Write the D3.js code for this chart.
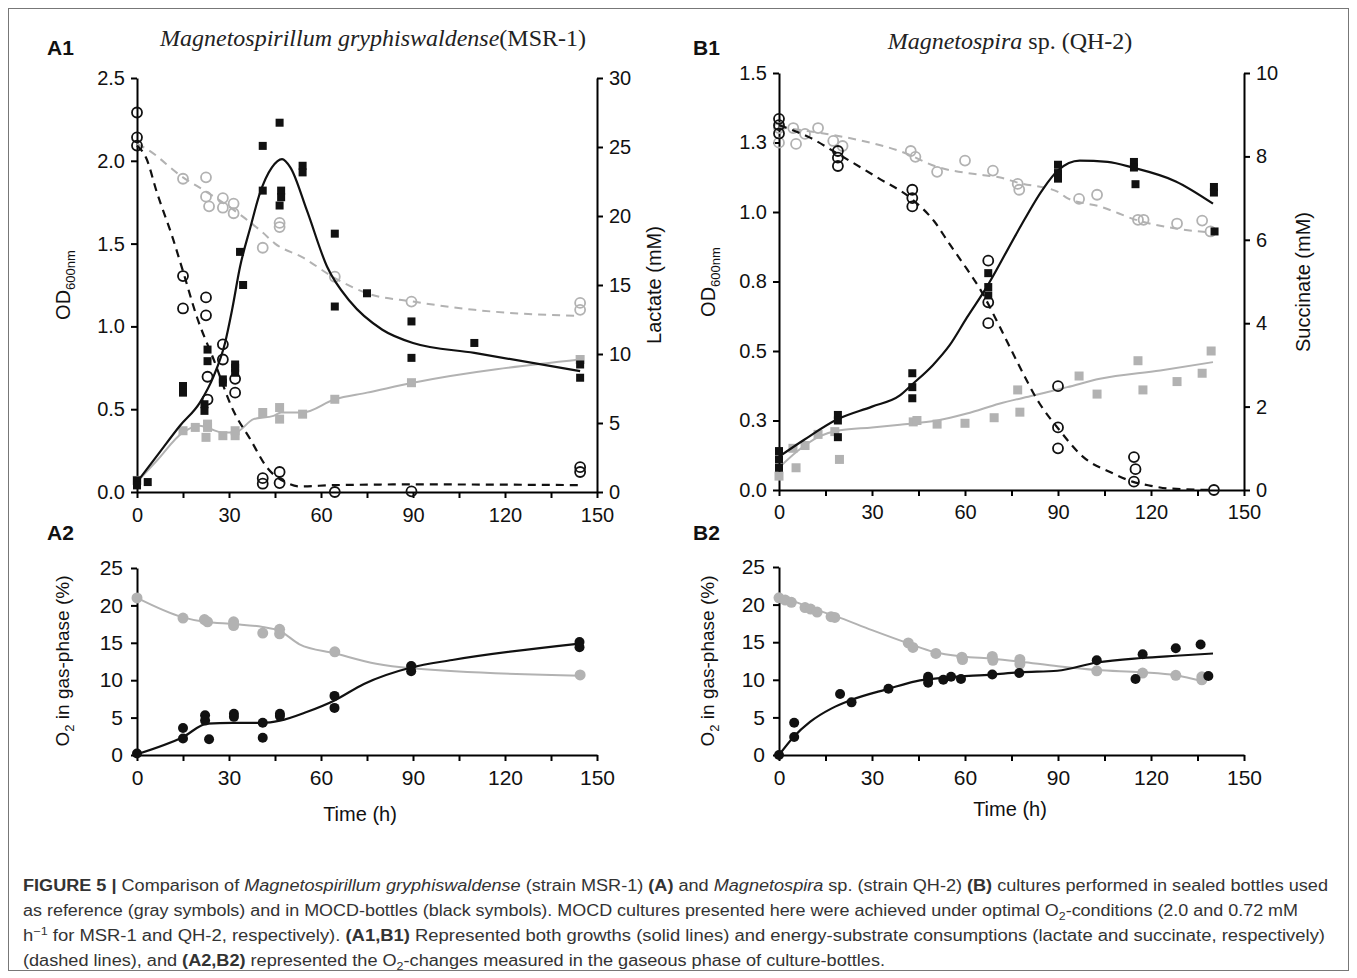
<!DOCTYPE html>
<html>
<head>
<meta charset="utf-8">
<script src="https://cdn.jsdelivr.net/npm/d3@7"></script>
<style>
  body { margin: 0; background: #fff; }
  svg text { font-family: "Liberation Sans", Arial, sans-serif; }
</style>
</head>
<body>
<svg id="fig" width="1357" height="978"></svg>
<script>
// ---------- data (time in h, value) ----------
const timeTicks = [0, 15, 30, 45, 60, 75, 90, 105, 120, 135, 150];

// A1  MSR-1 : OD600 (left) and lactate mM (right)
const a1OdTicks = [0, 0.5, 1.0, 1.5, 2.0, 2.5];
const a1LacTicks = [0, 5, 10, 15, 20, 25, 30];
const a1MocdOd = [[0,0.07],[0,0.04],[3.5,0.06],[15,0.64],[15,0.60],[23,0.86],[23,0.79],[22,0.53],[22,0.49],
  [28,0.68],[28,0.66],[32,0.77],[32,0.75],[32,0.72],[33.6,1.45],[34.6,1.25],[41,2.09],[41,1.82],
  [46.5,2.23],[47,1.82],[47,1.78],[46.5,1.73],[54,1.97],[54,1.93],[64.5,1.56],[64.5,1.12],[75,1.20],
  [89.5,1.03],[89.5,0.81],[110,0.90],[144.5,0.77],[144.5,0.69]];
const a1MocdOdFit = [[0,0.06],[7,0.23],[14,0.40],[20.5,0.54],[25,0.70],[28.7,0.90],[31,1.10],[33.6,1.36],
  [37,1.60],[40,1.80],[44,1.96],[47.3,2.01],[50,1.96],[55.4,1.70],[62,1.36],[69.5,1.15],[80,0.98],
  [90,0.90],[110,0.84],[144.5,0.73]];
const a1RefOd = [[0,0.07],[15,0.37],[19,0.39],[22.5,0.33],[23,0.39],[23,0.41],[28,0.34],[32,0.34],[32,0.37],
  [41,0.48],[46.5,0.44],[46.5,0.51],[54,0.47],[64.5,0.56],[89.5,0.66],[144.5,0.80]];
const a1RefOdFit = [[0,0.06],[6.5,0.19],[15,0.36],[20.5,0.40],[24,0.38],[27.7,0.36],[32,0.36],[38,0.44],
  [44.5,0.46],[47,0.48],[54,0.48],[64.5,0.56],[75,0.60],[90,0.66],[144.5,0.80]];
const a1MocdLac = [[0,27.5],[0,25.7],[0,25.1],[15,15.65],[15,13.3],[22.5,14.1],[22.5,12.8],[23,8.35],[23,6.7],
  [28,10.7],[28,9.6],[32,8.2],[32,7.2],[41,1.0],[41,0.6],[46.5,1.45],[46.5,0.65],[64.5,0],[89.5,0.05],
  [144.5,1.8],[144.5,1.45]];
const a1MocdLacFit = [[0,25.1],[3,24.2],[6.5,21.7],[11.8,18.3],[15,16.0],[19.5,12.7],[25,9.6],[31.4,5.9],
  [37,3.8],[42.3,1.8],[49,0.65],[53,0.4],[64.5,0.5],[90,0.55],[144.5,0.5]];
const a1RefLac = [[15,22.7],[22.5,22.8],[22.5,21.4],[23.5,20.7],[28,21.3],[28,20.6],[31.5,20.9],[31.5,20.2],
  [41,17.7],[46.5,19.5],[46.5,19.2],[64.5,15.6],[89.5,13.8],[144.5,13.7],[144.5,13.2]];
const a1RefLacFit = [[0,25.2],[2,25.0],[15,22.8],[23,21.7],[33,20.2],[41,18.8],[45,18.0],[54,17.0],
  [64.5,15.5],[75,14.4],[90,13.8],[110,13.2],[144.5,12.75]];

// B1  QH-2 : OD600 (left) and succinate mM (right)
const b1OdTicks = [0, 0.25, 0.5, 0.75, 1.0, 1.25, 1.5];
const b1OdLabels = ["0.0", "0.3", "0.5", "0.8", "1.0", "1.3", "1.5"];
const b1SucTicks = [0, 2, 4, 6, 8, 10];
const b1MocdOd = [[0,0.14],[0,0.11],[0,0.08],[19,0.27],[19,0.25],[19,0.19],[43,0.42],[43,0.37],[43,0.33],
  [67.5,0.78],[67.5,0.73],[67.5,0.70],[90,1.17],[90,1.14],[90,1.12],[114.5,1.18],[114.5,1.16],[115,1.10],
  [140.3,1.09],[140.3,1.07],[140.5,0.93]];
const b1MocdOdFit = [[0,0.12],[8,0.18],[19,0.255],[30,0.30],[39,0.34],[43,0.38],[49.7,0.45],[55,0.52],
  [60.6,0.62],[67,0.73],[77,0.93],[85,1.08],[90,1.15],[97,1.185],[106,1.18],[114,1.16],[128,1.11],[140,1.03]];
const b1RefOd = [[0,0.05],[4.5,0.15],[5.5,0.08],[8.4,0.16],[12.6,0.20],[18,0.21],[19.5,0.11],[43.3,0.245],
  [44.5,0.25],[51,0.237],[60,0.24],[69.4,0.26],[77,0.36],[77.7,0.28],[96.8,0.41],[102.6,0.345],[115.8,0.465],
  [117.4,0.36],[128.4,0.39],[136.5,0.42],[139.4,0.50]];
const b1RefOdFit = [[0,0.08],[6,0.14],[12.6,0.19],[19.7,0.215],[30,0.225],[39,0.235],[51,0.25],[60.6,0.275],
  [71,0.31],[82,0.34],[93,0.37],[103.5,0.40],[123,0.43],[140,0.46]];
const b1MocdSuc = [[0,8.9],[0,8.75],[0,8.55],[19,8.13],[19,7.97],[19,7.77],[43,7.2],[43,7.0],[43,6.8],
  [67.5,5.5],[67.5,4.5],[67.5,4.0],[90,2.49],[90,1.5],[90,1.0],[114.5,0.79],[115,0.5],[114.5,0.2],[140.3,0]];
const b1MocdSucFit = [[0,8.75],[10,8.45],[19,8.06],[31.6,7.5],[43.3,6.95],[50,6.45],[55,5.9],[60.6,5.3],
  [65,4.8],[71.3,3.9],[77,3.05],[84,2.08],[90,1.48],[98,0.8],[107.7,0.4],[114,0.2],[120,0.1],[125,0.04],[140,0]];
const b1RefSuc = [[0,8.68],[0,8.33],[4.6,8.68],[5.5,8.3],[8.4,8.54],[12.6,8.68],[17.5,8.37],[20.5,8.25],
  [42.5,8.13],[44,7.99],[51,7.63],[60,7.9],[69,7.66],[77,7.34],[77.5,7.2],[96.8,6.98],[102.6,7.08],
  [115.8,6.48],[117.6,6.48],[128.4,6.39],[136.5,6.46],[139.2,6.2]];
const b1RefSucFit = [[0,8.7],[10,8.6],[22,8.45],[40,8.1],[51,7.75],[66,7.55],[71,7.5],[77,7.37],[90,7.15],
  [93,7.0],[103.5,6.8],[116,6.46],[128,6.27],[140,6.17]];

// A2 / B2 : O2 in gas phase (%)
const o2Ticks = [0, 5, 10, 15, 20, 25];
const a2Ref = [[0,21.0],[15,18.3],[22,18.1],[23,17.8],[31.5,17.8],[31.5,17.3],[41,16.3],[46.5,16.8],
  [46.5,16.2],[64.5,13.8],[89.5,11.8],[144.5,10.7]];
const a2RefFit = [[0,21],[15,18.4],[22,17.8],[32,17.5],[41,17.1],[46.5,16.6],[53,14.8],[64.5,13.6],
  [78,12.2],[89.5,11.6],[144.5,10.6]];
const a2Mocd = [[0,0.2],[15,3.6],[15,2.2],[22.2,5.3],[22.2,4.6],[23.5,2.1],[31.6,5.5],[31.6,5.1],[41,4.3],
  [41,2.3],[46.6,5.5],[46.6,5.2],[64.4,7.9],[64.4,6.3],[89.4,11.9],[89.4,11.2],[144.3,15.1],[144.3,14.4]];
const a2MocdFit = [[0,0.1],[15,2.4],[22.9,4.2],[31,4.3],[41,4.3],[46.6,4.6],[55.3,5.75],[64.4,7.3],
  [74,9.5],[89.4,11.7],[102.8,12.7],[144.3,14.9]];
const b2Ref = [[0,20.9],[2,20.6],[4,20.3],[8.4,19.6],[10.2,19.4],[12.3,19.0],[16.8,18.4],[18,18.3],
  [41.7,14.9],[43.2,14.3],[50.6,13.5],[59,13.0],[59.2,12.7],[68.8,13.1],[69,12.6],[77.7,12.7],[77.7,12.1],
  [102.5,11.2],[117.3,10.9],[128,10.6],[136.4,10.4],[136.4,10.0]];
const b2RefFit = [[0,21],[5,20.4],[10,19.6],[18,18.5],[30,16.6],[42,14.8],[50,13.7],[59,13.1],[69,12.8],
  [78,12.4],[90,11.8],[102.5,11.3],[117,11.0],[128,10.6],[136.7,9.8]];
const b2Mocd = [[0,0],[4.9,2.4],[4.9,4.3],[19.7,8.1],[23.4,7.0],[35.3,8.8],[48.1,10.4],[48.1,9.6],[48.1,10.1],
  [53,10.0],[55.5,10.4],[58.7,10.1],[68.8,10.7],[77.5,10.9],[102.5,12.6],[115,10.1],[117.3,13.4],
  [128,14.2],[136,14.7],[138.5,10.5]];
const b2MocdFit = [[0,0],[4.7,2.4],[10,4.4],[17,6.2],[23.2,7.3],[35.3,8.8],[44,9.8],[54,10.3],[68.8,10.7],
  [77.5,11.0],[89.8,11.2],[102.5,12.3],[117,12.9],[128,13.2],[140,13.5]];

// ---------- drawing ----------
const svg = d3.select("#fig");
const BLACK = "#111", GRAY = "#b2b2b2";

svg.append("rect").attr("x", 8.5).attr("y", 8.5).attr("width", 1340).attr("height", 962)
  .attr("fill", "none").attr("stroke", "#777").attr("stroke-width", 1);

function styleAxis(g, fs) {
  g.select(".domain").attr("stroke", "#000").attr("stroke-width", 2);
  g.selectAll(".tick line").attr("stroke", "#000").attr("stroke-width", 2);
  g.selectAll(".tick text").attr("font-size", fs).attr("fill", "#111")
    .style("font-family", "'Liberation Sans', Arial, sans-serif");
}

function makePanel(p) {
  const x = d3.scaleLinear().domain([0, 150]).range([p.x0, p.x1]);
  const yL = d3.scaleLinear().domain(p.yL).range([p.yB, p.yT]);
  const yR = p.yR ? d3.scaleLinear().domain(p.yR).range([p.yB, p.yT]) : null;

  const gx = svg.append("g").attr("transform", `translate(0,${p.yB})`)
    .call(d3.axisBottom(x).tickValues(timeTicks).tickSize(6).tickSizeOuter(0)
      .tickPadding(p.xPad).tickFormat(d => d % 30 === 0 ? d : ""));
  styleAxis(gx, p.fs);

  const gl = svg.append("g").attr("transform", `translate(${p.x0},0)`)
    .call(d3.axisLeft(yL).tickValues(p.lTicks).tickSize(6).tickSizeOuter(0)
      .tickPadding(p.yPad).tickFormat((d, i) => p.lLabels ? p.lLabels[i] : p.lFmt(d)));
  styleAxis(gl, p.fs);

  if (yR) {
    const gr = svg.append("g").attr("transform", `translate(${p.x1},0)`)
      .call(d3.axisRight(yR).tickValues(p.rTicks).tickSize(6).tickSizeOuter(0)
        .tickPadding(p.yPad).tickFormat(d3.format("d")));
    styleAxis(gr, p.fs);
  }
  return { x, yL, yR };
}

function fitLine(s, data, y, color, width, dash) {
  const line = d3.line().x(d => s.x(d[0])).y(d => y(d[1])).curve(d3.curveMonotoneX);
  svg.append("path").datum(data).attr("d", line).attr("fill", "none")
    .attr("stroke", color).attr("stroke-width", width)
    .attr("stroke-dasharray", dash || null);
}

function squares(s, data, y, color, size) {
  svg.append("g").selectAll("rect").data(data).join("rect")
    .attr("x", d => s.x(d[0]) - size / 2).attr("y", d => y(d[1]) - size / 2)
    .attr("width", size).attr("height", size).attr("fill", color);
}

function rings(s, data, y, color, r, sw) {
  svg.append("g").selectAll("circle").data(data).join("circle")
    .attr("cx", d => s.x(d[0])).attr("cy", d => y(d[1])).attr("r", r)
    .attr("fill", "none").attr("stroke", color).attr("stroke-width", sw);
}

function dots(s, data, y, color, r) {
  svg.append("g").selectAll("circle").data(data).join("circle")
    .attr("cx", d => s.x(d[0])).attr("cy", d => y(d[1])).attr("r", r).attr("fill", color);
}

// A1
const a1 = makePanel({ x0: 137, x1: 597, yB: 492, yT: 78, yL: [0, 2.5], yR: [0, 30],
  lTicks: a1OdTicks, lFmt: d3.format(".1f"), rTicks: a1LacTicks, fs: 20, xPad: 10, yPad: 6 });
fitLine(a1, a1RefLacFit, a1.yR, GRAY, 2, "8,6");
fitLine(a1, a1RefOdFit, a1.yL, GRAY, 2);
rings(a1, a1RefLac, a1.yR, GRAY, 5, 1.8);
squares(a1, a1RefOd, a1.yL, GRAY, 9);
fitLine(a1, a1MocdLacFit, a1.yR, BLACK, 2.2, "8,6");
fitLine(a1, a1MocdOdFit, a1.yL, BLACK, 2.2);
rings(a1, a1MocdLac, a1.yR, BLACK, 5, 1.8);
squares(a1, a1MocdOd, a1.yL, BLACK, 8);

// B1
const b1 = makePanel({ x0: 779, x1: 1244, yB: 490, yT: 73, yL: [0, 1.5], yR: [0, 10],
  lTicks: b1OdTicks, lLabels: b1OdLabels, rTicks: b1SucTicks, fs: 20, xPad: 9, yPad: 6 });
fitLine(b1, b1RefSucFit, b1.yR, GRAY, 2, "8,6");
fitLine(b1, b1RefOdFit, b1.yL, GRAY, 2);
rings(b1, b1RefSuc, b1.yR, GRAY, 5, 1.8);
squares(b1, b1RefOd, b1.yL, GRAY, 9);
fitLine(b1, b1MocdSucFit, b1.yR, BLACK, 2.2, "8,6");
fitLine(b1, b1MocdOdFit, b1.yL, BLACK, 2.2);
rings(b1, b1MocdSuc, b1.yR, BLACK, 5, 1.8);
squares(b1, b1MocdOd, b1.yL, BLACK, 8);

// A2
const a2 = makePanel({ x0: 137, x1: 597, yB: 755, yT: 568, yL: [0, 25],
  lTicks: o2Ticks, lFmt: d3.format("d"), fs: 21, xPad: 9, yPad: 8 });
fitLine(a2, a2RefFit, a2.yL, GRAY, 2);
dots(a2, a2Ref, a2.yL, GRAY, 5.5);
fitLine(a2, a2MocdFit, a2.yL, BLACK, 2.2);
dots(a2, a2Mocd, a2.yL, BLACK, 5);

// B2
const b2 = makePanel({ x0: 779, x1: 1244, yB: 755, yT: 567, yL: [0, 25],
  lTicks: o2Ticks, lFmt: d3.format("d"), fs: 21, xPad: 9, yPad: 8 });
fitLine(b2, b2RefFit, b2.yL, GRAY, 2);
dots(b2, b2Ref, b2.yL, GRAY, 5.5);
fitLine(b2, b2MocdFit, b2.yL, BLACK, 2.2);
dots(b2, b2Mocd, b2.yL, BLACK, 5);

// ---------- labels ----------
[["A1", 47, 55], ["B1", 693, 55], ["A2", 47, 540], ["B2", 693, 540]].forEach(([t, x, y]) => {
  svg.append("text").attr("x", x).attr("y", y).attr("font-size", 21).attr("font-weight", "bold")
    .attr("fill", "#111").text(t);
});

function title(x, y, italic, rest) {
  const t = svg.append("text").attr("x", x).attr("y", y).attr("text-anchor", "middle")
    .attr("font-size", 24).attr("fill", "#222").style("font-family", "'Liberation Serif', 'DejaVu Serif', serif");
  t.append("tspan").attr("font-style", "italic").text(italic);
  t.append("tspan").text(rest);
}
title(373, 46, "Magnetospirillum gryphiswaldense", "(MSR-1)");
title(1010, 49, "Magnetospira", " sp. (QH-2)");

function odLabel(x, y) {
  const t = svg.append("text").attr("transform", `translate(${x},${y}) rotate(-90)`)
    .attr("text-anchor", "middle").attr("font-size", 20).attr("fill", "#111");
  t.append("tspan").text("OD");
  t.append("tspan").attr("font-size", 13).attr("baseline-shift", "-5").text("600nm");
}
odLabel(70, 285);
odLabel(715, 282);

function vLabel(x, y, txt, fs) {
  svg.append("text").attr("transform", `translate(${x},${y}) rotate(-90)`)
    .attr("text-anchor", "middle").attr("font-size", fs).attr("fill", "#111").text(txt);
}
vLabel(661, 285, "Lactate (mM)", 20);
vLabel(1310, 282, "Succinate (mM)", 20);

function o2Label(x, y) {
  const t = svg.append("text").attr("transform", `translate(${x},${y}) rotate(-90)`)
    .attr("text-anchor", "middle").attr("font-size", 19).attr("fill", "#111");
  t.append("tspan").text("O");
  t.append("tspan").attr("font-size", 13).attr("baseline-shift", "-5").text("2");
  t.append("tspan").text(" in gas-phase (%)");
}
o2Label(69, 661);
o2Label(714, 661);

svg.append("text").attr("x", 360).attr("y", 821).attr("text-anchor", "middle")
  .attr("font-size", 20).attr("fill", "#111").text("Time (h)");
svg.append("text").attr("x", 1010).attr("y", 816).attr("text-anchor", "middle")
  .attr("font-size", 20).attr("fill", "#111").text("Time (h)");

// ---------- caption ----------
const captionLines = [
  { y: 891, w: 1305, parts: [["FIGURE 5 | ", "b"], ["Comparison of "], ["Magnetospirillum gryphiswaldense", "i"],
    [" (strain MSR-1) "], ["(A)", "b"], [" and "], ["Magnetospira", "i"], [" sp. (strain QH-2) "], ["(B)", "b"],
    [" cultures performed in sealed bottles used"]] },
  { y: 916, w: 1275, parts: [["as reference (gray symbols) and in MOCD-bottles (black symbols). MOCD cultures presented here were achieved under optimal O"],
    ["2", "sub"], ["-conditions (2.0 and 0.72 mM"]] },
  { y: 941, w: 1302, parts: [["h"], ["\u22121", "sup"], [" for MSR-1 and QH-2, respectively). "], ["(A1,B1)", "b"],
    [" Represented both growths (solid lines) and energy-substrate consumptions (lactate and succinate, respectively)"]] },
  { y: 966, w: 862, parts: [["(dashed lines), and "], ["(A2,B2)", "b"], [" represented the O"], ["2", "sub"],
    ["-changes measured in the gaseous phase of culture-bottles."]] }
];
captionLines.forEach(line => {
  const t = svg.append("text").attr("x", 23).attr("y", line.y).attr("font-size", 16).attr("fill", "#333")
    .attr("textLength", line.w).attr("lengthAdjust", "spacingAndGlyphs");
  line.parts.forEach(([txt, st]) => {
    const s = t.append("tspan").text(txt);
    if (st === "b") s.attr("font-weight", "bold");
    if (st === "i") s.attr("font-style", "italic");
    if (st === "sub") s.attr("font-size", 11).attr("dy", 4);
    if (st === "sup") s.attr("font-size", 11).attr("dy", -6);
    if (st === "sub" || st === "sup") {
      // return to baseline for the next run
      s.attr("data-shift", st === "sub" ? 4 : -6);
    }
  });
  // reset baseline after shifted runs
  t.selectAll("tspan").each(function (d, i, nodes) {
    const prev = i > 0 ? nodes[i - 1].getAttribute("data-shift") : null;
    if (prev && !this.getAttribute("dy")) d3.select(this).attr("dy", -prev);
  });
});
</script>
</body>
</html>
